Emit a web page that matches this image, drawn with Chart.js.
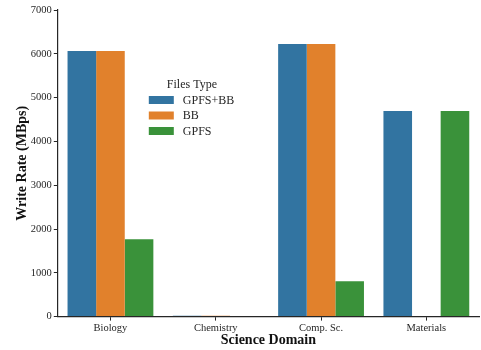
<!DOCTYPE html>
<html>
<head>
<meta charset="utf-8">
<script src="https://cdn.jsdelivr.net/npm/chart.js@4/dist/chart.umd.min.js"></script>
<style>
  html, body { margin: 0; padding: 0; background: #fff; }
  #wrap { width: 481px; height: 350px; }
</style>
</head>
<body>
<div id="wrap"><canvas id="writeChart"></canvas></div>
<script>
const domains = ['Biology', 'Chemistry', 'Comp. Sc.', 'Materials'];
const gpfsBB = [6065, 22, 6225, 4695];
const bbOnly = [6065, 22, 6225, 0];
const gpfsOnly = [1765, 0, 805, 4695];
const seriesNames = ['GPFS+BB', 'BB', 'GPFS'];
const seriesColors = ['#3274a1', '#e1812c', '#3a923a'];

const serif = '"Liberation Serif", "DejaVu Serif", serif';

// legend drawn inside the plot area, like the seaborn one
const innerLegend = {
    id: 'innerLegend',
    afterDraw(chart) {
        const ctx = chart.ctx;
        const area = chart.chartArea;
        const x0 = area.left + 91;
        const y0 = area.top + 75;
        ctx.save();
        ctx.fillStyle = '#262626';
        ctx.font = '12px ' + serif;
        ctx.textBaseline = 'middle';
        ctx.textAlign = 'left';
        ctx.fillText('Files Type', x0 + 18, y0);
        chart.data.datasets.forEach((ds, i) => {
            const y = y0 + 15 + i * 15.5;
            ctx.fillStyle = ds.backgroundColor;
            ctx.fillRect(x0, y - 4, 25, 8);
            ctx.fillStyle = '#262626';
            ctx.fillText(ds.label, x0 + 34, y + 0.5);
        });
        ctx.restore();
    }
};

new Chart(document.getElementById('writeChart'), {
    type: 'bar',
    data: {
        labels: domains,
        datasets: [gpfsBB, bbOnly, gpfsOnly].map((vals, i) => ({
            label: seriesNames[i],
            data: vals,
            backgroundColor: seriesColors[i],
            borderWidth: 0,
            categoryPercentage: 0.815,
            barPercentage: 1.0
        }))
    },
    options: {
        responsive: true,
        maintainAspectRatio: false,
        animation: false,
        layout: {
            padding: { top: 10, right: 2, left: 14, bottom: 0 }
        },
        plugins: {
            legend: { display: false },
            tooltip: { enabled: false }
        },
        scales: {
            x: {
                grid: {
                    offset: false,
                    drawOnChartArea: false,
                    drawTicks: true,
                    tickLength: 4,
                    color: '#262626'
                },
                border: { display: true, color: '#262626', width: 1.2 },
                ticks: {
                    color: '#262626',
                    font: { family: serif, size: 10.5 },
                    padding: 1,
                    maxRotation: 0
                },
                title: {
                    display: true,
                    text: 'Science Domain',
                    color: '#111',
                    font: { family: serif, size: 14, weight: 'bold' },
                    padding: { top: -3, bottom: 1 }
                }
            },
            y: {
                min: 0,
                max: 7000,
                grid: {
                    drawOnChartArea: false,
                    drawTicks: true,
                    tickLength: 4,
                    color: '#262626'
                },
                border: { display: true, color: '#262626', width: 1.2 },
                ticks: {
                    stepSize: 1000,
                    color: '#262626',
                    font: { family: serif, size: 10.5 },
                    padding: 2,
                    callback: v => String(v)
                },
                title: {
                    display: true,
                    text: 'Write Rate (MBps)',
                    color: '#111',
                    font: { family: serif, size: 14, weight: 'bold' },
                    padding: { top: 0, bottom: -2 }
                }
            }
        }
    },
    plugins: [innerLegend]
});
</script>
</body>
</html>
